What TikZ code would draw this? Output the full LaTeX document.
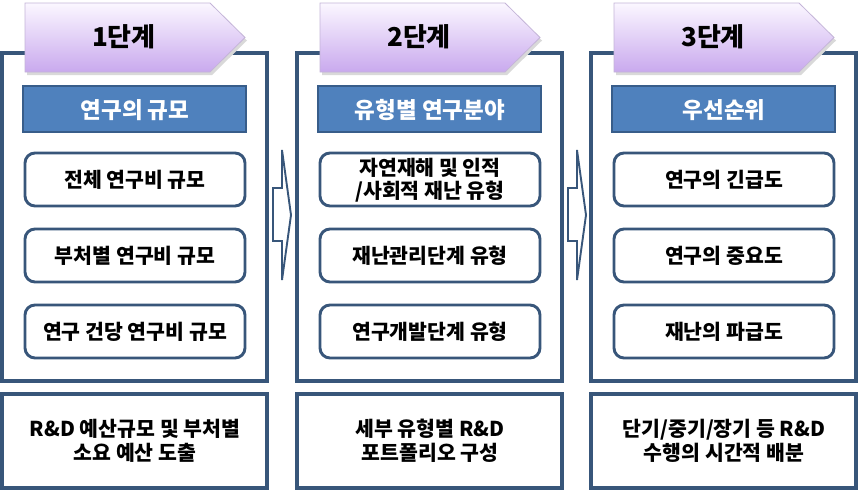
\documentclass[tikz,border=0pt]{standalone}
\usepackage{fontspec}
\setmainfont{Noto Sans CJK KR}
\definecolor{bord}{HTML}{38567A}
\definecolor{hdr}{HTML}{4F81BD}
\definecolor{hdrb}{HTML}{385D8A}
\definecolor{pentop}{HTML}{FBF7FF}
\definecolor{penbot}{HTML}{C9A9EE}
\definecolor{penline}{HTML}{C4B4D8}
\tikzset{
  outerbox/.style={draw=bord, line width=3.2pt, fill=white},
  hdrbox/.style={draw=hdrb, line width=1.8pt, fill=hdr},
  itembox/.style={draw=bord, line width=2.9pt, rounded corners=10pt, fill=white},
  stepshape/.style={draw=penline, line width=0.8pt, top color=pentop, bottom color=penbot},
  flowarrow/.style={draw=bord, line width=1.9pt, fill=white, line join=miter},
  steptxt/.style={font=\fontsize{26}{30}\selectfont\bfseries, text=black},
  hdrtxt/.style={font=\fontsize{22.5}{26}\selectfont\bfseries, text=white},
  itemtxt/.style={font=\fontsize{20.5}{23}\selectfont\bfseries, text=black, align=center},
  bottxt/.style={font=\fontsize{20.5}{23.5}\selectfont\bfseries, text=black, align=center},
}
\begin{document}
\begin{tikzpicture}[x=1pt,y=-1pt]
\useasboundingbox (0,0) rectangle (858,491);
\foreach \dx/\num in {0/1,295/2,589/3}{
  \begin{scope}[xshift=\dx pt]
    \draw[outerbox] (2,53) rectangle (267,381);
    \fill[black!15] (27,6) -- (212,6) -- (247,40.5) -- (212,75) -- (27,75) -- cycle;
    \draw[stepshape] (25,3) -- (210,3) -- (245,37.5) -- (210,72) -- (25,72) -- cycle;
    \node[steptxt] (step\num) at (124,37) {{\num}단계};
    \draw[hdrbox] (23,86) rectangle (246,132);
    \draw[itembox] (25,153) rectangle (245,206);
    \draw[itembox] (25,229) rectangle (245,282);
    \draw[itembox] (25,305) rectangle (245,358);
    \draw[outerbox] (2,394) rectangle (267,488);
  \end{scope}
}
% headers
\node[hdrtxt] (h1) at (135,110) {연구의 규모};
\node[hdrtxt] (h2) at (430,110) {유형별 연구분야};
\node[hdrtxt] (h3) at (724,110) {우선순위};
% items column 1
\node[itemtxt] (a1) at (135,180) {전체 연구비 규모};
\node[itemtxt] (a2) at (135,256) {부처별 연구비 규모};
\node[itemtxt] (a3) at (135,332) {연구 건당 연구비 규모};
% items column 2
\node[itemtxt] (b1) at (430,180) {자연재해 및 인적\\/사회적 재난 유형};
\node[itemtxt] (b2) at (430,256) {재난관리단계 유형};
\node[itemtxt] (b3) at (430,332) {연구개발단계 유형};
% items column 3
\node[itemtxt] (c1) at (724,180) {연구의 긴급도};
\node[itemtxt] (c2) at (724,256) {연구의 중요도};
\node[itemtxt] (c3) at (724,332) {재난의 파급도};
% bottom
\node[bottxt] (d1) at (135,441) {R\&D 예산규모 및 부처별\\소요 예산 도출};
\node[bottxt] (d2) at (430,441) {세부 유형별 R\&D\\포트폴리오 구성};
\node[bottxt] (d3) at (724,441) {단기/중기/장기 등 R\&D\\수행의 시간적 배분};
% flow arrows
\foreach \dx in {0,295}{
  \begin{scope}[xshift=\dx pt]
    \draw[flowarrow] (273,188) -- (282,188) -- (282,150) -- (291,215) -- (282,280) -- (282,241) -- (273,241) -- cycle;
  \end{scope}
}
\end{tikzpicture}
\end{document}
